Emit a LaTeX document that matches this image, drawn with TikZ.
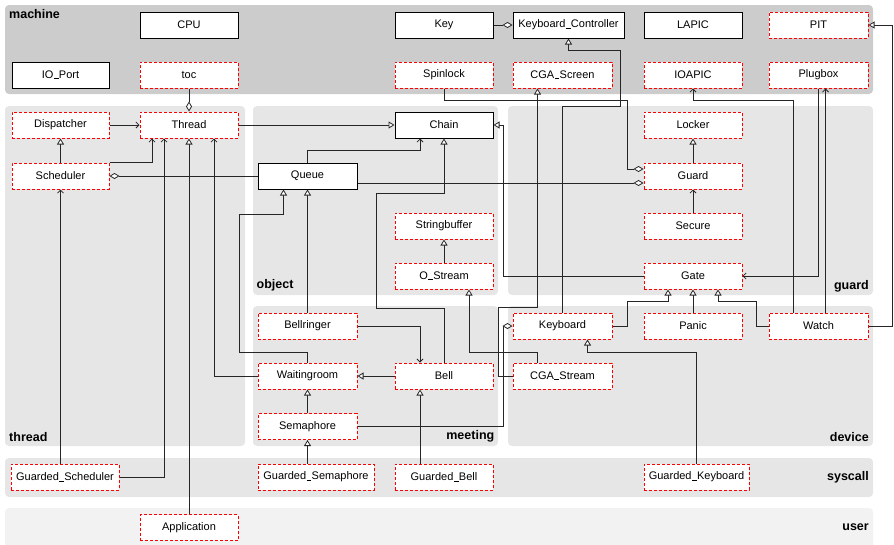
\documentclass[tikz,border=0pt]{standalone}
\usepackage{fontspec}
\setmainfont{Liberation Sans}
\usetikzlibrary{arrows.meta}
\newcommand{\us}{\kern0.04em\rule[-0.06em]{0.42em}{0.07em}\kern0.04em}
\definecolor{machgray}{HTML}{CCCCCC}
\definecolor{pangray}{HTML}{E6E6E6}
\definecolor{usergray}{HTML}{F2F2F2}
\tikzset{
  cls/.style={draw=black, line width=1pt, fill=white, minimum width=98pt, minimum height=26pt, inner sep=0pt, font=\fontsize{11}{13}\selectfont},
  ncls/.style={cls, draw=red, dash pattern=on 3pt off 2pt},
  conn/.style={draw=black!85, line width=0.8pt},
  inh/.style={conn, -{Triangle[width=7pt,length=6pt,fill=white]}},
  agg/.style={conn, {Diamond[width=6pt,length=10pt,fill=white]}-},
  asc/.style={conn, -{Straight Barb[length=3pt,width=6pt]}},
  plabel/.style={font=\fontsize{12.5}{14}\selectfont\bfseries, inner sep=0pt},
}
\begin{document}
\begin{tikzpicture}[x=1pt,y=-1pt]
\useasboundingbox (0,0) rectangle (894,544);
% panels
\fill[machgray, rounded corners=4pt] (5,5) rectangle (873,94);
\fill[pangray, rounded corners=4pt] (5,106) rectangle (245,446);
\fill[pangray, rounded corners=4pt] (253,106) rectangle (498,295);
\fill[pangray, rounded corners=4pt] (508,106) rectangle (873,295);
\fill[pangray, rounded corners=4pt] (253,306) rectangle (498,446);
\fill[pangray, rounded corners=4pt] (508,306) rectangle (873,446);
\fill[pangray, rounded corners=4pt] (5,458) rectangle (873,497);
\fill[usergray, rounded corners=4pt] (5,508) rectangle (873,556);
% panel labels
\node[plabel, anchor=base west] (Lmachine) at (9,18.5) {machine};
\node[plabel, anchor=base west] (Lthread) at (9,441.5) {thread};
\node[plabel, anchor=base west] (Lobject) at (256.5,288.5) {object};
\node[plabel, anchor=base east] (Lmeeting) at (494.5,439.5) {meeting};
\node[plabel, anchor=base east] (Lguard) at (869,289) {guard};
\node[plabel, anchor=base east] (Ldevice) at (869,441.5) {device};
\node[plabel, anchor=base east] (Lsyscall) at (869,480.5) {syscall};
\node[plabel, anchor=base east] (Luser) at (869,530.5) {user};
% classes
\node[cls] (CPU) at (189,25) {CPU};
\node[cls] (Key) at (444,25) {Key};
\node[cls, minimum width=111pt] (KC) at (568.5,25) {Keyboard\us Controller};
\node[cls] (LAPIC) at (693,25) {LAPIC};
\node[ncls, minimum width=99pt] (PIT) at (818.5,25) {PIT};
\node[cls, minimum width=97pt] (IOPort) at (60.5,75) {IO\us Port};
\node[ncls] (toc) at (189,75) {toc};
\node[ncls] (Spinlock) at (444,75) {Spinlock};
\node[ncls, minimum width=99pt] (CGAScreen) at (562.5,75) {CGA\us Screen};
\node[ncls] (IOAPIC) at (693,75) {IOAPIC};
\node[ncls, minimum width=99pt] (Plugbox) at (818.5,75) {Plugbox};
\node[ncls, minimum width=97pt] (Dispatcher) at (60.5,125) {Dispatcher};
\node[ncls] (Thread) at (189,125) {Thread};
\node[cls] (Chain) at (444,125) {Chain};
\node[ncls] (Locker) at (693,125) {Locker};
\node[ncls, minimum width=97pt] (Scheduler) at (60.5,176) {Scheduler};
\node[cls, minimum width=99pt] (Queue) at (307.5,176) {Queue};
\node[ncls] (Guard) at (693,176) {Guard};
\node[ncls] (Stringbuffer) at (444,226) {Stringbuffer};
\node[ncls] (Secure) at (693,226) {Secure};
\node[ncls] (OStream) at (444,276) {O\us Stream};
\node[ncls] (Gate) at (693,276) {Gate};
\node[ncls, minimum width=99pt] (Bellringer) at (307.5,326) {Bellringer};
\node[ncls, minimum width=99pt] (Keyboard) at (562.5,326) {Keyboard};
\node[ncls] (Panic) at (693,326) {Panic};
\node[ncls, minimum width=99pt] (Watch) at (818.5,326) {Watch};
\node[ncls, minimum width=99pt] (Waitingroom) at (307.5,376) {Waitingroom};
\node[ncls] (Bell) at (444,376) {Bell};
\node[ncls, minimum width=99pt] (CGAStream) at (562.5,376) {CGA\us Stream};
\node[ncls, minimum width=99pt] (Semaphore) at (307.5,426.5) {Semaphore};
\node[ncls, minimum width=108pt] (GScheduler) at (65,477) {Guarded\us Scheduler};
\node[ncls, minimum width=116pt] (GSemaphore) at (316,477) {Guarded\us Semaphore};
\node[ncls] (GBell) at (444,477) {Guarded\us Bell};
\node[ncls, minimum width=105pt] (GKeyboard) at (696.5,477) {Guarded\us Keyboard};
\node[ncls] (Application) at (189,527.5) {Application};
% connectors
\draw[agg] (KC.west) -- (Key.east);
\draw[agg] (Thread.north) -- (toc.south);
\draw[asc] (Dispatcher.east) -- (Thread.west);
\draw[inh] (Scheduler.north) -- (Dispatcher.south);
\draw[asc] (Scheduler.north east) -| ([xshift=-37pt]Thread.south);
\draw[agg] (Scheduler.east) -- (Queue.west);
\draw[inh] (Thread.east) -- (Chain.west);
\draw[asc] (Queue.north) |- (420,150) -- ([xshift=-24pt]Chain.south);
\draw[inh] (Bell.north) |- (376,308) |- (444,193) -- (Chain.south);
\draw[inh] (Gate.west) -| (503,125) -- (Chain.east);
\draw[agg] ([yshift=-7pt]Guard.west) -- ([yshift=-7pt]Queue.east);
\draw[agg] ([yshift=7pt]Guard.west) -| (627.5,100.5) -| (Spinlock.south);
\draw[inh] (Keyboard.north) |- (620,106) |- (568.5,50) -- (KC.south);
\draw[inh] (CGAStream.west) -| (498,307) -| ([xshift=-25pt]CGAScreen.south);
\draw[inh] ([xshift=-25pt]CGAStream.north) |- (469,352) -- ([xshift=25pt]OStream.south);
\draw[agg] (Keyboard.west) -| (503,426.5) -- (Semaphore.east);
\draw[asc] (Bellringer.east) -| ([xshift=-24pt]Bell.north);
\draw[inh] (Bellringer.north) -- (Queue.south);
\draw[inh] (Waitingroom.north) |- (239,352) |- (283.5,214) -- ([xshift=-24pt]Queue.south);
\draw[asc] (Waitingroom.west) -| ([xshift=25pt]Thread.south);
\draw[inh] (Bell.west) -- (Waitingroom.east);
\draw[inh] (Semaphore.north) -- (Waitingroom.south);
\draw[inh] (GSemaphore.north -| Semaphore.south) -- (Semaphore.south);
\draw[inh] ([xshift=-24pt]GBell.north) -- ([xshift=-24pt]Bell.south);
\draw[asc] (GScheduler.north -| Scheduler.south) -- (Scheduler.south);
\draw[asc] (GScheduler.east) -| ([xshift=-25pt]Thread.south);
\draw[inh] (Application.north) -- (Thread.south);
\draw[inh] (GKeyboard.north) |- (587.5,352) -- ([xshift=25pt]Keyboard.south);
\draw[inh] (Keyboard.east) -| (627.5,301) -| ([xshift=-25pt]Gate.south);
\draw[inh] (Panic.north) -- (Gate.south);
\draw[inh] (Watch.west) -| (756.5,301) -| ([xshift=25pt]Gate.south);
\draw[inh] (Watch.east) -| (892.5,25) -- (PIT.east);
\draw[asc] (Plugbox.south) |- (Gate.east);
\draw[asc] ([xshift=7pt]Watch.north) -- ([xshift=7pt]Plugbox.south);
\draw[asc] ([xshift=-25pt]Watch.north) |- (693,100.5) -- (IOAPIC.south);
\draw[asc] (Secure.north) -- (Guard.south);
\draw[inh] (Guard.north) -- (Locker.south);
\draw[inh] (OStream.north) -- (Stringbuffer.south);
\end{tikzpicture}
\end{document}
